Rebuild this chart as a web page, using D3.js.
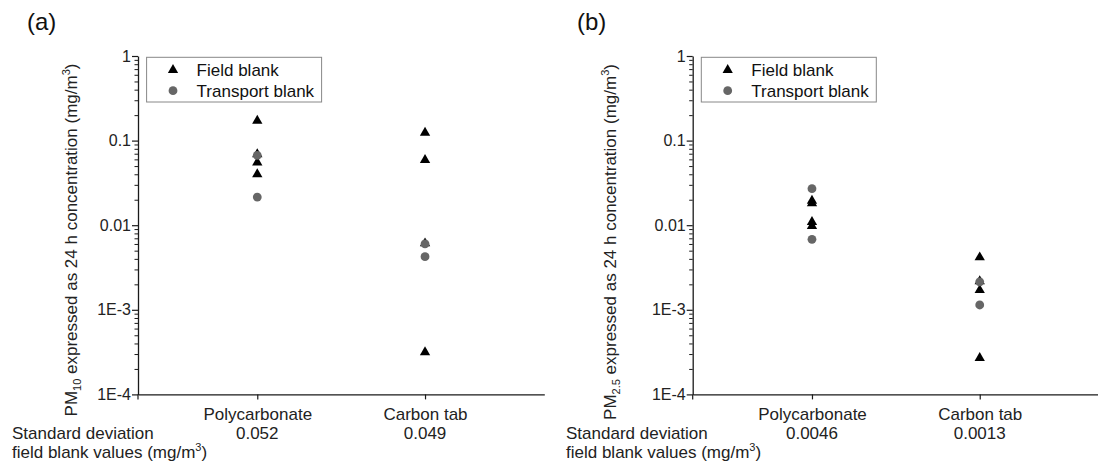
<!DOCTYPE html>
<html><head><meta charset="utf-8">
<script src="https://cdn.jsdelivr.net/npm/d3@7"></script>
<style>
html,body{margin:0;padding:0;background:#fff;}
svg{display:block;font-family:"Liberation Sans",Arial,sans-serif;}
</style></head>
<body>
<svg id="chart" width="1098" height="466"></svg>
<script>
// ---- data ----
const categories = ["Polycarbonate", "Carbon tab"];
const yTickValues = [1, 0.1, 0.01, 0.001, 0.0001];
const yTickLabels = ["1", "0.1", "0.01", "1E-3", "1E-4"];
const seriesNames = ["Field blank", "Transport blank"];

// panel (a) PM10
const fieldA = [
  [0.172, 0.069, 0.055, 0.040],     // Polycarbonate
  [0.124, 0.059, 0.0061, 0.000315]  // Carbon tab
];
const transportA = [
  [0.067, 0.0215],
  [0.0060, 0.00424]
];
const stdDevA = ["0.052", "0.049"];

// panel (b) PM2.5
const fieldB = [
  [0.0195, 0.0182, 0.0109, 0.0098],
  [0.00417, 0.00218, 0.00171, 0.00027]
];
const transportB = [
  [0.027, 0.0068],
  [0.00214, 0.00114]
];
const stdDevB = ["0.0046", "0.0013"];

const svg = d3.select("#chart");
const axisColor = "#1a1a1a";

function panel(opt) {
  const g = svg.append("g");
  const x0 = opt.x0, x1 = opt.x1, yTop = 56, yBot = 394.4;
  const x = d3.scalePoint().domain(categories).range([x0, x1]).padding(0.711);
  const y = d3.scaleLog().domain([1e-4, 1]).range([yBot, yTop]);

  // minor ticks
  const minor = [];
  for (let e = -4; e < 0; e++) for (let m = 2; m <= 9; m++) minor.push(m * Math.pow(10, e));
  const minorAxis = g.append("g").attr("transform", `translate(${x0},0)`)
    .call(d3.axisLeft(y).tickValues(minor).tickSize(3.5).tickFormat(""));
  minorAxis.select(".domain").remove();
  minorAxis.selectAll("line").attr("stroke", axisColor).attr("stroke-width", 1);

  // major y axis
  const ya = g.append("g").attr("transform", `translate(${x0},0)`)
    .call(d3.axisLeft(y).tickValues(yTickValues).tickSize(6).tickSizeOuter(0).tickPadding(1)
      .tickFormat((d, i) => yTickLabels[i]));
  ya.select(".domain").attr("stroke", axisColor).attr("stroke-width", 1.3);
  ya.selectAll("line").attr("stroke", axisColor).attr("stroke-width", 1.2);
  ya.selectAll("text").attr("font-size", 16).attr("fill", "#222")
    .attr("font-family", "Liberation Sans, Arial, sans-serif");

  // x axis
  const xa = g.append("g").attr("transform", `translate(0,${yBot})`)
    .call(d3.axisBottom(x).tickSize(5).tickSizeOuter(0).tickPadding(9));
  xa.select(".domain").attr("stroke", axisColor).attr("stroke-width", 1.3);
  xa.selectAll("line").attr("stroke", axisColor).attr("stroke-width", 1.2);
  xa.selectAll("text").attr("font-size", 17).attr("fill", "#222")
    .attr("font-family", "Liberation Sans, Arial, sans-serif");
  // small extension of y axis below origin
  g.append("line").attr("x1", x0).attr("x2", x0).attr("y1", yBot).attr("y2", yBot + 5)
    .attr("stroke", axisColor).attr("stroke-width", 1.2);

  // std dev values
  g.selectAll(".sd").data(categories).join("text")
    .attr("x", d => x(d)).attr("y", 439).attr("text-anchor", "middle")
    .attr("font-size", 17).attr("fill", "#222")
    .text((d, i) => opt.sd[i]);

  // std dev label
  g.append("text").attr("x", opt.sdX).attr("y", 439).attr("font-size", 17).attr("fill", "#222")
    .text("Standard deviation");
  const t2 = g.append("text").attr("x", opt.sdX).attr("y", 458).attr("font-size", 17).attr("fill", "#222");
  t2.append("tspan").text("field blank values (mg/m");
  t2.append("tspan").attr("font-size", 11).attr("dy", -7).text("3");
  t2.append("tspan").attr("dy", 7).text(")");

  // y label
  const yl = g.append("text")
    .attr("transform", `translate(${opt.labX},${opt.labY}) rotate(-90)`)
    .attr("text-anchor", "middle").attr("font-size", 17).attr("fill", "#222");
  yl.append("tspan").text("PM");
  yl.append("tspan").attr("font-size", 11).attr("dy", 4).text(opt.sub);
  yl.append("tspan").attr("dy", -4).text(" expressed as 24 h concentration (mg/m");
  yl.append("tspan").attr("font-size", 11).attr("dy", -7).text("3");
  yl.append("tspan").attr("dy", 7).text(")");

  // panel label
  g.append("text").attr("x", opt.panX).attr("y", 30).attr("font-size", 24).attr("fill", "#111")
    .text(opt.panel);

  // data: field blanks (triangles)
  const tri = d3.symbol().type(d3.symbolTriangle).size(46);
  const fieldPts = [];
  opt.field.forEach((vals, i) => vals.forEach(v => fieldPts.push({c: categories[i], v})));
  g.selectAll(".tri").data(fieldPts).join("path")
    .attr("d", tri).attr("fill", "#000")
    .attr("transform", d => `translate(${x(d.c)},${y(d.v)})`);
  const transPts = [];
  opt.trans.forEach((vals, i) => vals.forEach(v => transPts.push({c: categories[i], v})));
  g.selectAll(".dot").data(transPts).join("circle")
    .attr("cx", d => x(d.c)).attr("cy", d => y(d.v)).attr("r", 4.4).attr("fill", "#666");

  // legend
  const lg = g.append("g").attr("transform", `translate(${x0 + 8.6},57.3)`);
  lg.append("rect").attr("width", 175).attr("height", 44.7).attr("fill", "#fff")
    .attr("stroke", "#888").attr("stroke-width", 1);
  lg.append("path").attr("d", tri).attr("fill", "#000").attr("transform", "translate(26.4,12.6)");
  lg.append("circle").attr("cx", 26.4).attr("cy", 33.4).attr("r", 4.4).attr("fill", "#666");
  lg.selectAll(".lt").data(seriesNames).join("text")
    .attr("x", 50).attr("y", (d, i) => 18.5 + i * 21).attr("font-size", 17).attr("fill", "#111")
    .text(d => d);
}

panel({x0: 138, x1: 544.3, field: fieldA, trans: transportA, sd: stdDevA, sdX: 12,
       labX: 76.5, labY: 240, sub: "10", panX: 27, panel: "(a)"});
panel({x0: 692.7, x1: 1099, field: fieldB, trans: transportB, sd: stdDevB, sdX: 566,
       labX: 615.5, labY: 242, sub: "2.5", panX: 577, panel: "(b)"});
</script>
</body></html>
